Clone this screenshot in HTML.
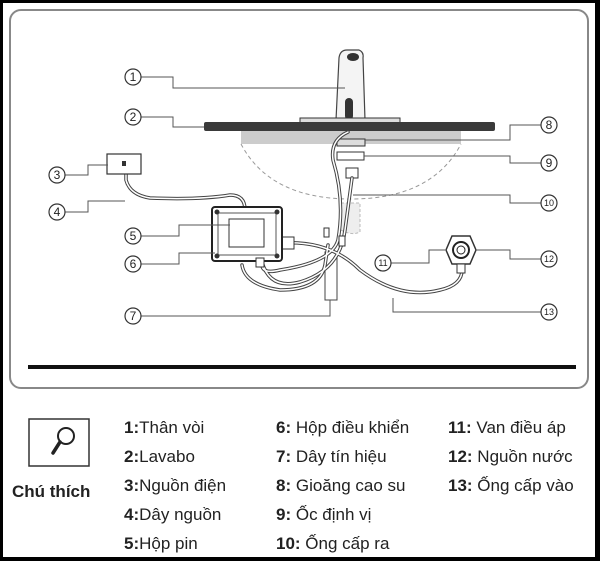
<!DOCTYPE html>
<html><head><meta charset="utf-8"><style>
html,body{margin:0;padding:0;background:#000;}
#w{position:relative;width:600px;height:561px;overflow:hidden;background:#000;}
#in{position:absolute;left:3px;top:3px;width:592px;height:554px;background:#fff;}
svg{position:absolute;left:0;top:0;}
.t{font-family:"Liberation Sans",sans-serif;font-size:17px;fill:#222;}
.b{font-weight:bold;}
</style></head><body><div id="w"><div id="in"></div>
<svg width="600" height="561" viewBox="0 0 600 561">
<rect x="10" y="10" width="578" height="378" rx="11" fill="none" stroke="#888" stroke-width="2"/>
<rect x="241" y="131" width="220" height="13" fill="#ccc"/>
<path d="M241 144 Q270 199 351 199 Q432 199 461 144" fill="none" stroke="#999" stroke-width="1" stroke-dasharray="4,3"/>
<path d="M341 203 L360 203 L360 232 Q352 236 341 230" fill="#eee" stroke="#bbb" stroke-dasharray="3,2"/>
<path d="M336 120 L339 58 Q340 50 347 50 L359 50 Q364 52 363 58 L365 120 Z" fill="#f4f4f4" stroke="#444" stroke-width="1.2"/>
<ellipse cx="353" cy="57" rx="6" ry="4" fill="#333"/>
<rect x="345" y="98" width="8" height="22" rx="4" fill="#333"/>
<rect x="300" y="118" width="100" height="6" fill="#ddd" stroke="#333"/>
<rect x="204" y="122" width="291" height="9" rx="2" fill="#3a3a3a"/>
<rect x="337" y="139" width="28" height="7" fill="#ddd" stroke="#333"/>
<rect x="337" y="152" width="27" height="8" fill="#fff" stroke="#333"/>
<rect x="346" y="168" width="12" height="10" fill="#fff" stroke="#333"/>
<rect x="325" y="252" width="12" height="48" fill="#fff" stroke="#444"/>
<g fill="none" stroke="#444" stroke-width="3.5" stroke-linecap="round">
<path d="M348 132 Q330 140 333 160 Q345 200 338 240 Q332 262 280 270 Q260 275 262 262"/>
<path d="M352 178 L345 230 Q340 270 300 282 Q270 290 262 262"/>
<path d="M282 243 Q330 240 360 270 Q400 300 440 290 Q462 285 462 270"/>
<path d="M242 265 Q245 285 280 290 Q320 290 325 265 L328 245"/>
<path d="M126 165 L126 180 Q130 195 150 198 Q200 200 230 195 Q245 195 245 210"/>
</g>
<g fill="none" stroke="#fff" stroke-width="1.5" stroke-linecap="round">
<path d="M348 132 Q330 140 333 160 Q345 200 338 240 Q332 262 280 270 Q260 275 262 262"/>
<path d="M352 178 L345 230 Q340 270 300 282 Q270 290 262 262"/>
<path d="M282 243 Q330 240 360 270 Q400 300 440 290 Q462 285 462 270"/>
<path d="M242 265 Q245 285 280 290 Q320 290 325 265 L328 245"/>
<path d="M126 165 L126 180 Q130 195 150 198 Q200 200 230 195 Q245 195 245 210"/>
</g>
<rect x="282" y="237" width="12" height="12" fill="#fff" stroke="#333"/>
<rect x="339" y="236" width="6" height="10" fill="#fff" stroke="#333"/>
<rect x="324" y="228" width="5" height="9" fill="#fff" stroke="#333"/>
<rect x="107" y="154" width="34" height="20" fill="#fff" stroke="#333" stroke-width="1.2"/>
<rect x="122" y="161" width="4" height="5" fill="#333"/>
<rect x="212" y="207" width="70" height="54" rx="3" fill="#fff" stroke="#222" stroke-width="2"/>
<rect x="218" y="213" width="58" height="42" fill="none" stroke="#555"/>
<rect x="229" y="219" width="35" height="28" fill="#fff" stroke="#333"/>
<g fill="#333"><circle cx="217" cy="212" r="2.5"/><circle cx="277" cy="212" r="2.5"/><circle cx="217" cy="256" r="2.5"/><circle cx="277" cy="256" r="2.5"/></g>
<rect x="256" y="258" width="8" height="9" fill="#fff" stroke="#333"/>
<polygon points="452,236 470,236 476,250 470,264 452,264 446,250" fill="#fff" stroke="#333" stroke-width="1.5"/>
<circle cx="461" cy="250" r="8" fill="#fff" stroke="#222" stroke-width="2"/>
<circle cx="461" cy="250" r="4" fill="none" stroke="#222"/>
<rect x="457" y="264" width="8" height="9" fill="#fff" stroke="#333"/>
<g fill="none" stroke="#555" stroke-width="1">
<path d="M141 77H173V88H345"/><path d="M141 117H173V127H204"/>
<path d="M65 175H88V165H108"/><path d="M65 212H88V201H125"/>
<path d="M141 236H179V225H230"/><path d="M141 264H179V253H215"/>
<path d="M141 316H330V300"/>
<path d="M541 125H510V140H365"/><path d="M541 163H510V156H364"/>
<path d="M541 203H510V195H353"/>
<path d="M391 263H429V250H445"/><path d="M541 259H510V250H476"/>
<path d="M541 312H393V298"/>
</g>
<g fill="#fff" stroke="#333" stroke-width="1.2">
<circle cx="133" cy="77" r="8"/><circle cx="133" cy="117" r="8"/><circle cx="57" cy="175" r="8"/><circle cx="57" cy="212" r="8"/><circle cx="133" cy="236" r="8"/><circle cx="133" cy="264" r="8"/><circle cx="133" cy="316" r="8"/>
<circle cx="549" cy="125" r="8"/><circle cx="549" cy="163" r="8"/><circle cx="549" cy="203" r="8"/><circle cx="383" cy="263" r="8"/><circle cx="549" cy="259" r="8"/><circle cx="549" cy="312" r="8"/>
</g>
<g font-family="Liberation Sans,sans-serif" font-size="12" fill="#222" text-anchor="middle">
<text x="133" y="81">1</text><text x="133" y="121">2</text><text x="57" y="179">3</text><text x="57" y="216">4</text><text x="133" y="240">5</text><text x="133" y="268">6</text><text x="133" y="320">7</text>
<text x="549" y="129">8</text><text x="549" y="167">9</text>
<text x="549" y="206" font-size="9">10</text><text x="383" y="266" font-size="9">11</text><text x="549" y="262" font-size="9">12</text><text x="549" y="315" font-size="9">13</text>
</g>
<rect x="28" y="365" width="548" height="4" fill="#111"/>
<rect x="29" y="419" width="60" height="47" fill="#fff" stroke="#333" stroke-width="1.5"/>
<circle cx="66" cy="436" r="8" fill="#fff" stroke="#222" stroke-width="2"/>
<line x1="60" y1="442" x2="53" y2="453" stroke="#222" stroke-width="3.5" stroke-linecap="round"/>
<text class="t" x="12" y="497" font-weight="bold">Chú thích</text>
<g class="t">
<text x="124" y="433"><tspan class="b">1:</tspan>Thân vòi</text>
<text x="124" y="462"><tspan class="b">2:</tspan>Lavabo</text>
<text x="124" y="491"><tspan class="b">3:</tspan>Nguồn điện</text>
<text x="124" y="520"><tspan class="b">4:</tspan>Dây nguồn</text>
<text x="124" y="549"><tspan class="b">5:</tspan>Hộp pin</text>
<text x="276" y="433"><tspan class="b">6:</tspan> Hộp điều khiển</text>
<text x="276" y="462"><tspan class="b">7:</tspan> Dây tín hiệu</text>
<text x="276" y="491"><tspan class="b">8:</tspan> Gioăng cao su</text>
<text x="276" y="520"><tspan class="b">9:</tspan> Ốc định vị</text>
<text x="276" y="549"><tspan class="b">10:</tspan> Ống cấp ra</text>
<text x="448" y="433"><tspan class="b">11:</tspan> Van điều áp</text>
<text x="448" y="462"><tspan class="b">12:</tspan> Nguồn nước</text>
<text x="448" y="491"><tspan class="b">13:</tspan> Ống cấp vào</text>
</g>
</svg></div></body></html>
